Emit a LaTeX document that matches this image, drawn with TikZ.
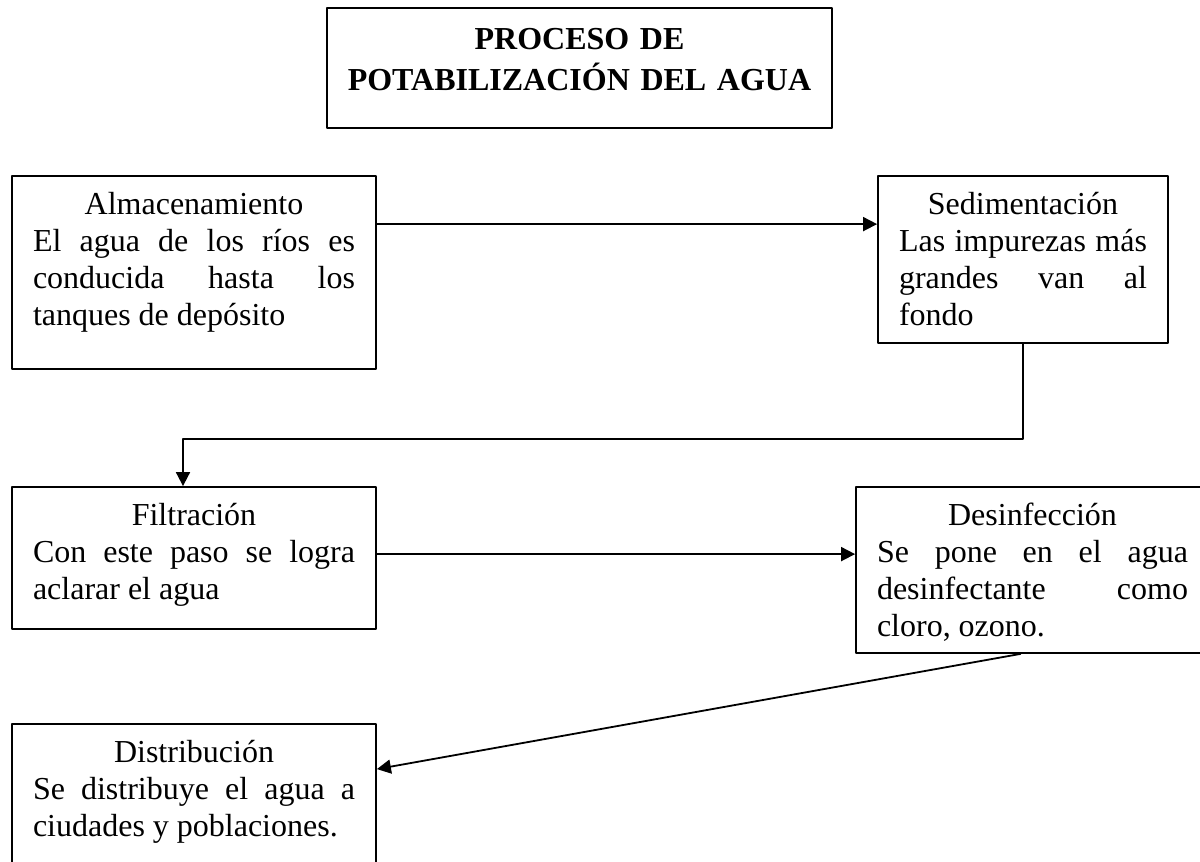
\documentclass[tikz,border=0pt]{standalone}
\usepackage{fontspec}
\setmainfont{Liberation Serif}
\usetikzlibrary{positioning,arrows.meta}
\tolerance=10000
\hbadness=10000
\hyphenpenalty=10000
\newcommand{\cajatexto}[3]{\parbox[t]{#1}{{\centering\strut #2\par}#3}}
\begin{document}
\begin{tikzpicture}[line cap=round,line join=round,>={Triangle[length=7pt,width=7pt]},x=0.5pt,y=-0.5pt,
  caja/.style={draw,line width=0.9pt,inner sep=0pt,minimum width=182pt},
  texto/.style={inner sep=0pt,font=\fontsize{16}{18.5}\selectfont},
  flecha/.style={line width=0.9pt,->}]
\useasboundingbox (0,0) rectangle (1200,862);
\node[caja,minimum width=252.5pt,minimum height=60pt] (titulo) at (579.5,68) {};
\node[texto,text width=250pt,align=center,font=\fontsize{16}{18.5}\selectfont\bfseries,below=8.05pt of titulo.north] (titulotxt) {\strut PROCESO DE\\ POTABILIZACIÓN DEL AGUA};
\node[caja,minimum height=96.5pt] (alm) at (194,272.5) {};
\node[texto,below=6.55pt of alm.north] (almtxt) {\cajatexto{161pt}{Almacenamiento}{El agua de los ríos es\linebreak conducida hasta los\linebreak tanques de depósito}};
\node[caja,minimum width=145pt,minimum height=83.5pt] (sed) at (1023,259.5) {};
\node[texto,below=6.55pt of sed.north] (sedtxt) {\cajatexto{124pt}{Sedimentación}{Las impurezas más\linebreak grandes van al\linebreak fondo}};
\node[caja,minimum height=71pt] (fil) at (194,558) {};
\node[texto,below=6.55pt of fil.north] (filtxt) {\cajatexto{161pt}{Filtración}{Con este paso se logra\linebreak aclarar el agua}};
\node[caja,minimum width=176.5pt,minimum height=83pt] (des) at (1032.5,570) {};
\node[texto,below=6.55pt of des.north] (destxt) {\cajatexto{155.5pt}{Desinfección}{Se pone en el agua\linebreak desinfectante como\linebreak cloro, ozono.}};
\node[caja,minimum height=83pt] (dis) at (194,807) {};
\node[texto,below=6.55pt of dis.north] (distxt) {\cajatexto{161pt}{Distribución}{Se distribuye el agua a\linebreak ciudades y poblaciones.}};
\draw[flecha] ([yshift=-24.5pt]alm.north east) -- ([yshift=-24.5pt]sed.north west);
\draw[flecha] (sed.south) -- ++(0,95) -| ([xshift=-5.5pt]fil.north);
\draw[flecha] ([yshift=-34pt]fil.north east) -- ([yshift=-34pt]des.north west);
\draw[flecha] ([xshift=-6pt]des.south) -- ([yshift=-23pt]dis.north east);
\end{tikzpicture}
\end{document}
